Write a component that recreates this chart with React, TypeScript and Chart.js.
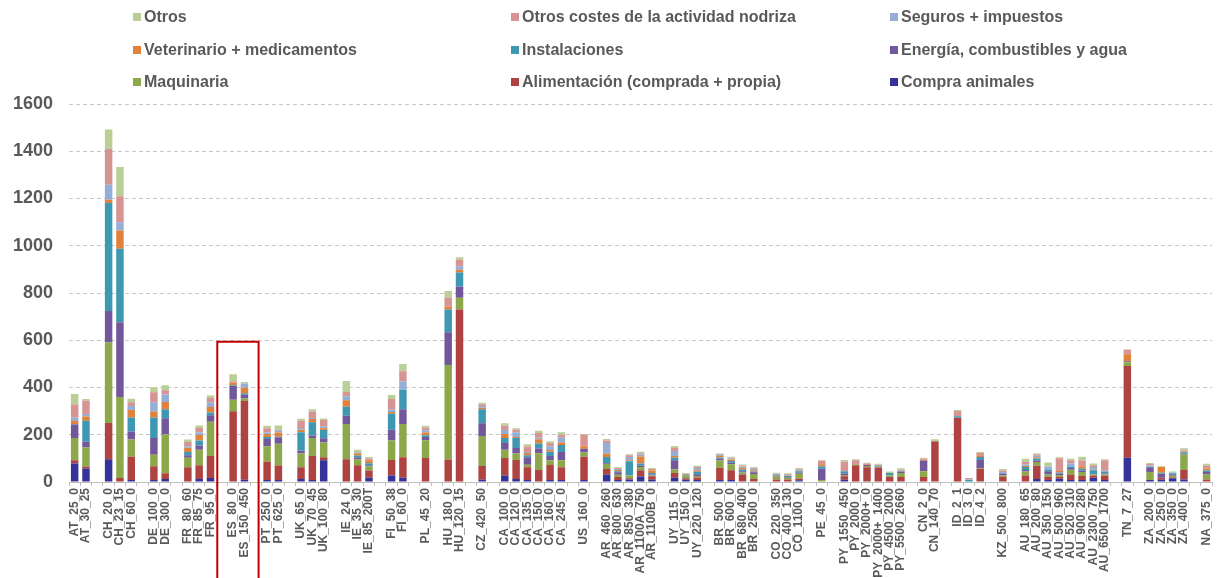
import React, { useEffect, useRef } from "react";
import { Chart, registerables } from "chart.js";

Chart.register(...registerables);

const FONT = '"Liberation Sans", Arial, Helvetica, sans-serif';

// Categories (empty strings are the gaps between countries)
const categories: string[] = [
  "AT_25_0", "AT_30_25", "",
  "CH_20_0", "CH_23_15", "CH_60_0", "",
  "DE_100_0", "DE_300_0", "",
  "FR_80_60", "FR_85_75", "FR_95_0", "",
  "ES_80_0", "ES_150_450", "",
  "PT_250_0", "PT_625_0", "",
  "UK_65_0", "UK_70_45", "UK_100_80", "",
  "IE_24_0", "IE_35_30", "IE_85_200T", "",
  "FI_50_38", "FI_60_0", "",
  "PL_45_20", "",
  "HU_180_0", "HU_120_15", "",
  "CZ_420_50", "",
  "CA_100_0", "CA_120_0", "CA_135_0", "CA_150_0", "CA_160_0", "CA_245_0", "",
  "US_160_0", "",
  "AR_460_260", "AR_800_630", "AR_850_380", "AR_1100A_750", "AR_1100B_0", "",
  "UY_115_0", "UY_150_0", "UY_220_120", "",
  "BR_500_0", "BR_600_0", "BR_680_400", "BR_2500_0", "",
  "CO_220_350", "CO_400_130", "CO_1100_0", "",
  "PE_45_0", "",
  "PY_1550_450", "PY_2000_0", "PY_2000+_0", "PY_2000+_1400", "PY_4500_2000", "PY_5500_2660", "",
  "CN_2_0", "CN_140_70", "",
  "ID_2_1", "ID_3_0", "ID_4_2", "",
  "KZ_500_800", "",
  "AU_180_65", "AU_200_80", "AU_350_150", "AU_500_960", "AU_520_310", "AU_900_280", "AU_2300_750", "AU_6500_1700", "",
  "TN_7_27", "",
  "ZA_200_0", "ZA_250_0", "ZA_350_0", "ZA_400_0", "",
  "NA_375_0",
];

const N = null;

// Series values (same order as categories)
const compraAnimales = [
  78, 56, N, 96, 0, 8, N, 8, 13, N, 0, 13, 17, N, 0, 10, N, 8, 8, N, 13, 8, 92, N,
  0, 0, 18, N, 27, 18, N, 0, N, 0, 0, N, 10, N, 27, 13, 8, 0, 8, 8, N, 8, N,
  32, 8, 11, 23, 10, N, 18, 10, 8, N, 8, 8, 0, 0, N, 0, 0, 7, N, 0, N,
  10, 0, 0, 0, 0, 0, N, 0, 0, N, 0, 0, 0, N, 0, N,
  0, 13, 8, 14, 8, 8, 18, 8, N, 103, N, 8, 10, 16, 11, N, 0,
];
const alimentacion = [
  14, 10, N, 154, 17, 99, N, 59, 24, N, 62, 58, 93, N, 299, 333, N, 78, 62, N, 49, 102, 13, N,
  96, 71, 31, N, 66, 87, N, 102, N, 95, 730, N, 58, N, 75, 80, 54, 51, 64, 54, N, 99, N,
  23, 13, 5, 27, 14, N, 20, 6, 11, N, 52, 42, 32, 13, N, 11, 11, 8, N, 0, N,
  14, 71, 62, 61, 21, 21, N, 21, 171, N, 272, 0, 56, N, 21, N,
  27, 56, 14, 8, 24, 17, 10, 18, N, 388, N, 0, 8, 3, 40, N, 11,
];
const maquinaria = [
  94, 80, N, 341, 343, 73, N, 48, 164, N, 41, 66, 145, N, 49, 10, N, 65, 92, N, 59, 76, 62, N,
  150, 25, 18, N, 83, 140, N, 75, N, 400, 50, N, 127, N, 35, 28, 11, 71, 20, 30, N, 18, N,
  21, 10, 11, 13, 4, N, 16, 11, 6, N, 31, 25, 8, 21, N, 13, 7, 20, N, 8, N,
  6, 4, 6, 4, 6, 17, N, 25, 4, N, 0, 0, 3, N, 7, N,
  17, 16, 10, 8, 20, 17, 4, 6, N, 16, N, 34, 0, 7, 65, N, 21,
];
const energia = [
  57, 24, N, 133, 316, 34, N, 71, 69, N, 10, 18, 28, N, 58, 17, N, 31, 27, N, 11, 11, 18, N,
  34, 8, 4, N, 45, 63, N, 14, N, 139, 48, N, 54, N, 28, 23, 32, 20, 18, 35, N, 16, N,
  3, 10, 0, 7, 4, N, 38, 3, 8, N, 7, 7, 6, 7, N, 4, 3, 4, N, 48, N,
  6, 0, 4, 0, 0, 6, N, 45, 0, N, 0, 0, 34, N, 8, N,
  7, 6, 14, 6, 7, 7, 0, 4, N, 4, N, 20, 17, 7, 4, N, 10,
];
const instalaciones = [
  3, 89, N, 457, 311, 59, N, 87, 38, N, 14, 21, 11, N, 3, 6, N, 8, 3, N, 79, 56, 35, N,
  38, 8, 8, N, 68, 83, N, 7, N, 96, 59, N, 59, N, 21, 42, 8, 21, 18, 30, N, 0, N,
  27, 5, 61, 8, 6, N, 11, 2, 10, N, 6, 7, 7, 3, N, 3, 4, 6, N, 10, N,
  10, 0, 0, 4, 11, 0, N, 0, 0, N, 6, 8, 13, N, 0, N,
  13, 8, 7, 4, 7, 7, 18, 8, N, 0, N, 4, 4, 4, 6, N, 7,
];
const veterinario = [
  12, 18, N, 14, 78, 32, N, 25, 31, N, 18, 23, 23, N, 12, 23, N, 13, 18, N, 10, 14, 7, N,
  28, 10, 13, N, 7, 0, N, 11, N, 13, 11, N, 6, N, 17, 4, 10, 18, 7, 10, N, 10, N,
  14, 5, 4, 30, 11, N, 7, 3, 7, N, 6, 6, 7, 6, N, 1, 3, 3, N, 6, N,
  0, 0, 0, 0, 0, 0, N, 4, 0, N, 0, 0, 7, N, 0, N,
  4, 6, 0, 7, 0, 11, 3, 0, N, 30, N, 0, 24, 0, 4, N, 8,
];
const seguros = [
  14, 11, N, 63, 35, 17, N, 40, 31, N, 6, 10, 21, N, 0, 18, N, 7, 7, N, 8, 4, 8, N,
  17, 4, 0, N, 11, 34, N, 10, N, 0, 15, N, 8, N, 17, 21, 4, 6, 16, 20, N, 0, N,
  45, 4, 14, 7, 0, N, 21, 0, 9, N, 4, 4, 6, 6, N, 3, 3, 4, N, 0, N,
  0, 0, 0, 0, 0, 4, N, 0, 0, N, 0, 3, 0, N, 6, N,
  6, 6, 13, 0, 13, 0, 11, 4, N, 0, N, 4, 0, 3, 3, N, 0,
];
const otrosCostes = [
  56, 56, N, 153, 109, 16, N, 42, 18, N, 18, 20, 18, N, 5, 0, N, 18, 4, N, 31, 27, 27, N,
  18, 0, 7, N, 44, 44, N, 11, N, 37, 28, N, 7, N, 18, 10, 23, 20, 14, 13, N, 49, N,
  11, 4, 7, 7, 6, N, 13, 1, 4, N, 3, 4, 4, 4, N, 1, 3, 3, N, 18, N,
  40, 17, 6, 4, 0, 4, N, 4, 0, N, 23, 6, 10, N, 7, N,
  11, 6, 0, 54, 13, 24, 7, 44, N, 20, N, 6, 0, 0, 4, N, 13,
];
const otros = [
  45, 7, N, 81, 124, 14, N, 21, 21, N, 11, 10, 10, N, 30, 6, N, 10, 18, N, 8, 10, 7, N,
  47, 10, 7, N, 17, 31, N, 8, N, 28, 10, N, 6, N, 11, 6, 10, 10, 7, 11, N, 3, N,
  6, 3, 4, 6, 4, N, 8, 2, 6, N, 4, 4, 4, 3, N, 3, 3, 4, N, 3, N,
  7, 4, 4, 4, 6, 6, N, 4, 6, N, 4, 0, 4, N, 6, N,
  13, 4, 17, 4, 6, 16, 7, 4, N, 0, N, 4, 4, 4, 6, N, 7,
];

// Series names (bottom of stack first)
const seriesNames = [
  "Compra animales",
  "Alimentación (comprada + propia)",
  "Maquinaria",
  "Energía, combustibles y agua",
  "Instalaciones",
  "Veterinario + medicamentos",
  "Seguros + impuestos",
  "Otros costes de la actividad nodriza",
  "Otros",
];
const seriesData = [
  compraAnimales, alimentacion, maquinaria, energia, instalaciones,
  veterinario, seguros, otrosCostes, otros,
];
const seriesColors = [
  "#33339A", "#AE4341", "#8DA84B", "#72579A", "#3F98B2",
  "#E0823A", "#94AED6", "#D69493", "#B9CF96",
];

const yTicks = { min: 0, max: 1600, step: 200 };
const highlighted = ["ES_80_0", "ES_150_450"];

// legend placement: 3 columns x 3 rows, top-of-stack first
const legendCols = [133, 511, 890];
const legendRows = [17, 50, 82];

const boxPlugin = {
  id: "highlightBox",
  afterDraw(chart: any) {
    const x = chart.scales.x;
    const y = chart.scales.y;
    const i0 = categories.indexOf(highlighted[0]);
    const i1 = categories.indexOf(highlighted[1]);
    const p0 = x.getPixelForValue(i0);
    const p1 = x.getPixelForValue(i1);
    const step = p1 - p0;
    const left = p0 - 1.4 * step;
    const right = p1 + 1.25 * step;
    const top = y.getPixelForValue(594);
    const ctx = chart.ctx;
    ctx.save();
    ctx.strokeStyle = "#C00000";
    ctx.lineWidth = 2;
    ctx.beginPath();
    ctx.moveTo(left, chart.height + 5);
    ctx.lineTo(left, top);
    ctx.lineTo(right, top);
    ctx.lineTo(right, chart.height + 5);
    ctx.stroke();
    ctx.restore();
  },
};

export default function App() {
  const ref = useRef<HTMLCanvasElement>(null);

  useEffect(() => {
    if (!ref.current) return;
    const chart = new Chart(ref.current, {
      type: "bar",
      data: {
        labels: categories,
        datasets: seriesNames.map((name, i) => ({
          label: name,
          data: seriesData[i] as any,
          backgroundColor: seriesColors[i],
          borderWidth: 0,
          categoryPercentage: 0.66,
          barPercentage: 1,
          stack: "s",
        })),
      },
      options: {
        responsive: false,
        animation: false,
        layout: { padding: { top: 104, right: 2, left: 0, bottom: 0 } },
        plugins: {
          legend: { display: false },
          tooltip: { enabled: false },
        },
        scales: {
          x: {
            stacked: true,
            grid: {
              display: true,
              drawOnChartArea: false,
              drawTicks: true,
              tickLength: 4,
              color: "#BFBFBF",
              offset: true,
            },
            border: { color: "#BFBFBF" },
            ticks: {
              autoSkip: false,
              maxRotation: 90,
              minRotation: 90,
              padding: 2,
              color: "#595959",
              font: { family: FONT, size: 12, weight: "bold" },
            },
            afterFit: (s: any) => {
              s.height = 96;
            },
          },
          y: {
            stacked: true,
            min: yTicks.min,
            max: yTicks.max,
            ticks: {
              stepSize: yTicks.step,
              padding: 16,
              color: "#595959",
              font: { family: FONT, size: 18, weight: "bold" },
              callback: (v: any) => String(v),
            },
            grid: { color: "#C8C8C8", drawTicks: false, lineWidth: 1 },
            border: { display: false, dash: [4, 3] },
            afterFit: (s: any) => {
              s.width = 69;
            },
          },
        },
      } as any,
      plugins: [boxPlugin],
    });
    return () => chart.destroy();
  }, []);

  const legendOrder = seriesNames.map((_, i) => seriesNames.length - 1 - i);

  return (
    <div style={{ position: "fixed", left: 0, top: 0, width: 1223, height: 578, background: "#fff" }}>
      <canvas ref={ref} width={1223} height={578} style={{ width: 1223, height: 578, display: "block" }} />
      {legendOrder.map((si, k) => {
        const col = k % 3;
        const row = Math.floor(k / 3);
        return (
          <div
            key={si}
            style={{
              position: "absolute",
              left: legendCols[col],
              top: legendRows[row] - 10,
              height: 20,
              display: "flex",
              alignItems: "center",
              whiteSpace: "nowrap",
              fontFamily: FONT,
              fontWeight: "bold",
              fontSize: 16,
              color: "#595959",
            }}
          >
            <span style={{ display: "inline-block", width: 8, height: 8, background: seriesColors[si], marginRight: 3 }} />
            <span>{seriesNames[si]}</span>
          </div>
        );
      })}
    </div>
  );
}
